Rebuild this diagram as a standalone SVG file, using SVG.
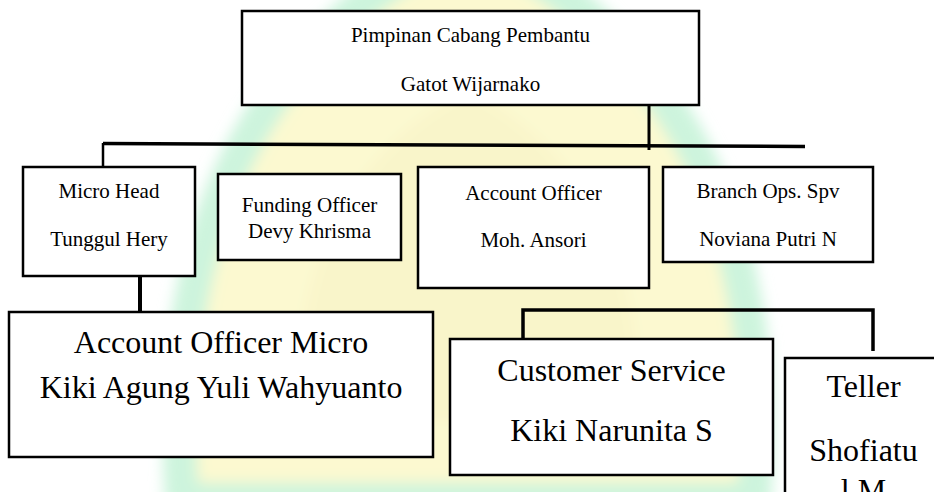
<svg xmlns="http://www.w3.org/2000/svg" width="934" height="492" viewBox="0 0 934 492">
<defs>
<filter id="soft" x="-10%" y="-10%" width="120%" height="120%"><feGaussianBlur stdDeviation="7"/></filter>
</defs>
<style>
.box{fill:#ffffff;stroke:#000000;stroke-width:2.5}
.t{font-family:"Liberation Serif","Times New Roman",serif;fill:#000000;text-anchor:middle}
.s{font-size:21px}
.l{font-size:32px}
.c{stroke:#000000;fill:none}
</style>
<rect width="934" height="492" fill="#ffffff"/>
<g id="watermark" filter="url(#soft)">
<path d="M182 500 C168 300 210 60 468 -60 C726 60 768 300 754 500 Z" fill="#fcf9d0" stroke="#cdf4dd" stroke-width="34"/>
<path d="M300 420 C290 300 330 160 468 90 C606 160 646 300 636 420 Z" fill="#f6f2c4" opacity="0.5"/>
</g>
<g id="connectors">
<line class="c" x1="649" y1="105" x2="649" y2="150" stroke-width="3"/>
<line class="c" x1="103" y1="143.5" x2="805" y2="146.5" stroke-width="3.5"/>
<line class="c" x1="103" y1="143" x2="103" y2="167" stroke-width="2.5"/>
<line class="c" x1="140" y1="276" x2="140" y2="312" stroke-width="4"/>
<path class="c" d="M523 340 V310 H873 V351" stroke-width="3.5"/>
</g>
<g id="pimpinan">
<rect class="box" x="242" y="11" width="457" height="94" stroke-width="3"/>
<text class="t s" x="470.5" y="42">Pimpinan Cabang Pembantu</text>
<text class="t s" x="470.5" y="90.5">Gatot Wijarnako</text>
</g>
<g id="micro-head">
<rect class="box" x="23" y="167" width="172" height="109"/>
<text class="t s" x="109" y="198">Micro Head</text>
<text class="t s" x="109" y="246">Tunggul Hery</text>
</g>
<g id="funding-officer">
<rect class="box" x="218" y="174" width="183" height="86"/>
<text class="t s" x="309.5" y="212">Funding Officer</text>
<text class="t s" x="309.5" y="238">Devy Khrisma</text>
</g>
<g id="account-officer">
<rect class="box" x="418" y="167" width="231" height="121"/>
<text class="t s" x="533.5" y="200">Account Officer</text>
<text class="t s" x="533.5" y="247">Moh. Ansori</text>
</g>
<g id="branch-ops">
<rect class="box" x="663" y="167" width="210" height="95"/>
<text class="t s" x="768" y="198">Branch Ops. Spv</text>
<text class="t s" x="768" y="246">Noviana Putri N</text>
</g>
<g id="account-officer-micro">
<rect class="box" x="9" y="312" width="424" height="145"/>
<text class="t l" x="221" y="353">Account Officer Micro</text>
<text class="t l" x="221" y="398">Kiki Agung Yuli Wahyuanto</text>
</g>
<g id="customer-service">
<rect class="box" x="450" y="339" width="323" height="136"/>
<text class="t l" x="611.5" y="381">Customer Service</text>
<text class="t l" x="611.5" y="441">Kiki Narunita S</text>
</g>
<g id="teller">
<rect class="box" x="785" y="358" width="157" height="150"/>
<text class="t l" x="863.5" y="397">Teller</text>
<text class="t l" x="863.5" y="461">Shofiatu</text>
<text class="t l" x="863.5" y="501">l M</text>
</g>
</svg>
